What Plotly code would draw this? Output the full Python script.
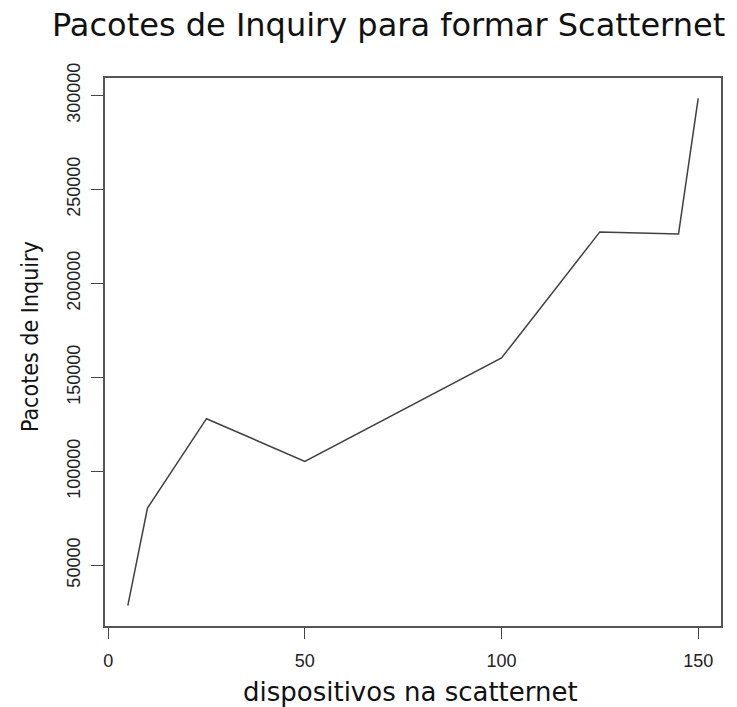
import plotly.graph_objects as go

# Number of devices in the scatternet and inquiry packets needed to form it
dispositivos = [5, 10, 25, 50, 100, 125, 145, 150]
pacotes = [28500, 80500, 128000, 105300, 160300, 227400, 226300, 298500]

x_ticks = [0, 50, 100, 150]
y_ticks = [50000, 100000, 150000, 200000, 250000, 300000]

fig = go.Figure()
fig.add_trace(go.Scatter(
    x=dispositivos, y=pacotes, mode="lines",
    line=dict(color="#404040", width=1.5),
    showlegend=False, hoverinfo="skip",
))

tick_font = dict(family="Liberation Sans, Arial, sans-serif", size=18, color="#222222")

fig.update_layout(
    width=737, height=707,
    margin=dict(l=105, r=16, t=78, b=81),
    paper_bgcolor="white", plot_bgcolor="white",
    xaxis=dict(
        range=[-0.8, 155.8], tickvals=x_ticks, ticktext=[str(v) for v in x_ticks],
        ticks="outside", ticklen=11, tickwidth=1.3, tickcolor="#444444",
        showline=True, linecolor="#555555", linewidth=1.5, mirror=True,
        showgrid=False, zeroline=False, tickfont=tick_font,
        ticklabelstandoff=7,
    ),
    yaxis=dict(
        range=[17700, 309300], tickvals=y_ticks, ticktext=[str(v) for v in y_ticks],
        ticks="outside", ticklen=12, tickwidth=1.3, tickcolor="#444444",
        showline=True, linecolor="#555555", linewidth=1.5, mirror=True,
        showgrid=False, zeroline=False, tickfont=tick_font, tickangle=-90,
        ticklabelstandoff=4,
    ),
    annotations=[
        dict(text="Pacotes de Inquiry para formar Scatternet",
             xref="paper", yref="paper", x=(388 - 105) / 616, y=1 + 53 / 548,
             xanchor="center", yanchor="middle", showarrow=False,
             font=dict(family="DejaVu Sans, sans-serif", size=32, color="#111111")),
        dict(text="dispositivos na scatternet",
             xref="paper", yref="paper", x=(410 - 105) / 616, y=-(692 - 626) / 548,
             xanchor="center", yanchor="middle", showarrow=False,
             font=dict(family="DejaVu Sans, sans-serif", size=26, color="#111111")),
        dict(text="Pacotes de Inquiry",
             xref="paper", yref="paper", x=-(105 - 30) / 616, y=(626 - 337) / 548,
             xanchor="center", yanchor="middle", showarrow=False, textangle=-90,
             font=dict(family="Liberation Sans Narrow, DejaVu Sans Condensed, sans-serif", size=23, color="#111111")),
    ],
)

fig.write_html("out.html")
